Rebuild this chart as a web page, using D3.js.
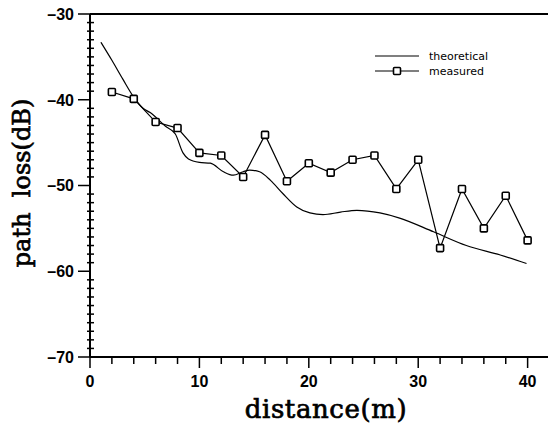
<!DOCTYPE html>
<html>
<head>
<meta charset="utf-8">
<script src="https://cdn.jsdelivr.net/npm/d3@7"></script>
<style>
body { margin: 0; background: #fff; }
svg { display: block; }
</style>
</head>
<body>
<div id="chart"></div>
<script>
// measured path loss every 2 m
var measuredX = [2, 4, 6, 8, 10, 12, 14, 16, 18, 20, 22, 24, 26, 28, 30, 32, 34, 36, 38, 40];
var measuredY = [-39.1, -39.9, -42.6, -43.3, -46.2, -46.5, -49.0, -44.1, -49.5, -47.4,
                 -48.5, -47.0, -46.5, -50.4, -47.0, -57.3, -50.4, -55.0, -51.2, -56.4];

// theoretical curve
var theoryX = [1, 2, 3, 4, 4.85, 5.5, 6.9, 7.8, 8.5, 9.0, 10, 11, 12.2, 13.1, 14.0, 14.6, 15.5,
               16.5, 17.6, 18.9, 20.1, 21.3, 22.9, 24.4, 26.5, 28.3, 31.4, 34.4, 37.5, 39.9];
var theoryY = [-33.3, -35.4, -37.6, -39.7, -41.0, -41.5, -43.1, -44.0, -46.2, -46.9, -47.3, -47.4,
               -48.4, -48.8, -48.4, -48.2, -48.4, -49.4, -50.9, -52.5, -53.2, -53.4, -53.1,
               -52.9, -53.2, -53.8, -55.4, -57.0, -58.1, -59.1];

var xTicks = [0, 10, 20, 30, 40];
var yTicks = [-30, -40, -50, -60, -70];
var legendLabels = ["theoretical", "measured"];

var W = 548, H = 425;
var svg = d3.select("#chart").append("svg").attr("width", W).attr("height", H);

var x = d3.scaleLinear().domain([0, 42]).range([90, 549.5]);
var y = d3.scaleLinear().domain([-70, -30]).range([357, 14]);

// frame: left, bottom, top
svg.append("line").attr("x1", 90).attr("x2", 90).attr("y1", 14).attr("y2", 357)
  .attr("stroke", "#000").attr("stroke-width", 2);
svg.append("line").attr("x1", 90).attr("x2", W).attr("y1", 357).attr("y2", 357)
  .attr("stroke", "#000").attr("stroke-width", 2);
svg.append("line").attr("x1", 90).attr("x2", W).attr("y1", 14).attr("y2", 14)
  .attr("stroke", "#000").attr("stroke-width", 2);

// y ticks
var yMinor = d3.range(-70, -29, 1);
svg.append("g").selectAll("line").data(yMinor).enter().append("line")
  .attr("x1", function (d) { return d % 10 === 0 ? 78 : 87; })
  .attr("x2", function (d) { return d % 10 === 0 ? 90 : 94; })
  .attr("y1", function (d) { return y(d); })
  .attr("y2", function (d) { return y(d); })
  .attr("stroke", "#000").attr("stroke-width", 1.5);

svg.append("g").selectAll("text").data(yTicks).enter().append("text")
  .attr("x", 74).attr("y", function (d) { return y(d); })
  .attr("dy", "0.36em").attr("text-anchor", "end")
  .attr("font-family", "Liberation Sans, Arial, sans-serif").attr("font-weight", "bold")
  .attr("font-size", 16)
  .text(function (d) { return "\u2013" + Math.abs(d); });

// x ticks
var xMinor = d3.range(0, 42, 2);
svg.append("g").selectAll("line").data(xMinor).enter().append("line")
  .attr("x1", function (d) { return x(d); })
  .attr("x2", function (d) { return x(d); })
  .attr("y1", 357)
  .attr("y2", function (d) { return d % 10 === 0 ? 368 : 364; })
  .attr("stroke", "#000").attr("stroke-width", 1.5);

svg.append("g").selectAll("text").data(xTicks).enter().append("text")
  .attr("x", function (d) { return x(d); }).attr("y", 387)
  .attr("text-anchor", "middle")
  .attr("font-family", "Liberation Sans, Arial, sans-serif").attr("font-weight", "bold")
  .attr("font-size", 16)
  .text(function (d) { return d; });

// axis titles
svg.append("text").attr("x", 326).attr("y", 418).attr("text-anchor", "middle")
  .attr("font-family", "DejaVu Serif, serif").attr("font-size", 26)
  .attr("letter-spacing", 0.6)
  .attr("stroke", "#000").attr("stroke-width", 0.7)
  .text("distance(m)");
svg.append("text").attr("transform", "translate(30,183) rotate(-90)").attr("text-anchor", "middle")
  .attr("font-family", "DejaVu Serif, serif").attr("font-size", 24)
  .attr("stroke", "#000").attr("stroke-width", 0.7)
  .attr("xml:space", "preserve")
  .text("path  loss(dB)");

// theoretical line
var theory = theoryX.map(function (d, i) { return [d, theoryY[i]]; });
svg.append("path").datum(theory)
  .attr("fill", "none").attr("stroke", "#000").attr("stroke-width", 1.2)
  .attr("d", d3.line().curve(d3.curveMonotoneX)
    .x(function (d) { return x(d[0]); }).y(function (d) { return y(d[1]); }));

// measured line + markers
var measured = measuredX.map(function (d, i) { return [d, measuredY[i]]; });
svg.append("path").datum(measured)
  .attr("fill", "none").attr("stroke", "#000").attr("stroke-width", 1.2)
  .attr("d", d3.line().x(function (d) { return x(d[0]); }).y(function (d) { return y(d[1]); }));

svg.append("g").selectAll("rect").data(measured).enter().append("rect")
  .attr("x", function (d) { return x(d[0]) - 3.5; })
  .attr("y", function (d) { return y(d[1]) - 3.5; })
  .attr("width", 7).attr("height", 7).attr("rx", 1)
  .attr("fill", "#fff").attr("stroke", "#000").attr("stroke-width", 1.6);

// legend
var leg = svg.append("g");
leg.append("line").attr("x1", 375).attr("x2", 419).attr("y1", 56).attr("y2", 56)
  .attr("stroke", "#000").attr("stroke-width", 1.2);
leg.append("line").attr("x1", 375).attr("x2", 419).attr("y1", 71).attr("y2", 71)
  .attr("stroke", "#000").attr("stroke-width", 1.2);
leg.append("rect").attr("x", 393.5).attr("y", 67.5).attr("width", 7).attr("height", 7).attr("rx", 1)
  .attr("fill", "#fff").attr("stroke", "#000").attr("stroke-width", 1.6);
leg.selectAll("text").data(legendLabels).enter().append("text")
  .attr("x", 429).attr("y", function (d, i) { return 56 + i * 15; })
  .attr("dy", "0.35em")
  .attr("font-family", "DejaVu Sans, sans-serif").attr("font-size", 11)
  .text(function (d) { return d; });
</script>
</body>
</html>
